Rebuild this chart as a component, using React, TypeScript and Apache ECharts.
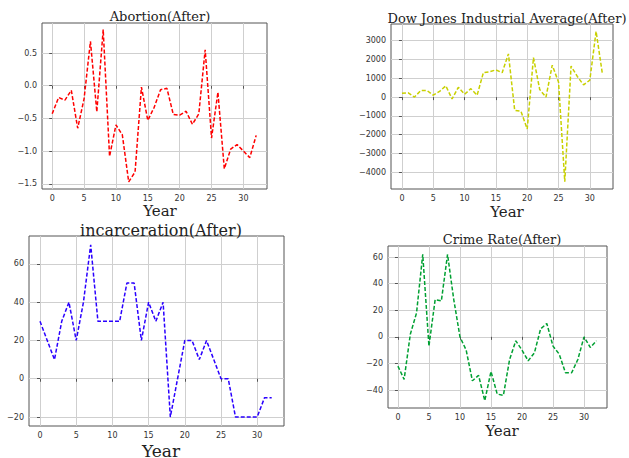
import { useEffect, useRef } from 'react';
import * as echarts from 'echarts';

const years = Array.from({ length: 33 }, (_, i) => i);

const abortion = [-0.43, -0.18, -0.22, -0.07, -0.65, -0.2, 0.68, -0.4, 0.86, -1.08, -0.6, -0.75, -1.47, -1.32, -0.02, -0.53, -0.33, -0.06, -0.04, -0.44, -0.45, -0.39, -0.59, -0.43, 0.55, -0.8, -0.1, -1.27, -0.97, -0.9, -1.0, -1.1, -0.76];
const dow = [200, 230, 0, 350, 350, 100, 300, 600, -100, 520, 150, 450, 100, 1300, 1350, 1450, 1300, 2300, -700, -750, -1700, 2100, 400, 0, 1700, 800, -4500, 1650, 1100, 650, 900, 3500, 1250];
const incarceration = [30, 20, 10, 30, 40, 20, 40, 70, 30, 30, 30, 30, 50, 50, 20, 40, 30, 40, -20, 0, 20, 20, 10, 20, 10, 0, 0, -20, -20, -20, -20, -10, -10];
const crime = [-22, -32, 2, 18, 62, -7, 28, 27, 62, 28, 0, -10, -33, -29, -48, -26, -43, -44, -17, -3, -10, -18, -12, 6, 10, -7, -13, -27, -27, -17, 0, -8, -3];

const xTicks = [0, 5, 10, 15, 20, 25, 30];
const abortionTicks = [-1.5, -1.0, -0.5, 0.0, 0.5];
const dowTicks = [-4000, -3000, -2000, -1000, 0, 1000, 2000, 3000];
const incTicks = [-20, 0, 20, 40, 60];
const crimeTicks = [-40, -20, 0, 20, 40, 60];

const serif = 'DejaVu Serif';

export default function App() {
    const ref = useRef<HTMLDivElement>(null);

    useEffect(() => {
        if (!ref.current) return;
        const chart = echarts.init(ref.current, null, { renderer: 'svg' });

        const grids = [
            { left: 42, top: 23, width: 225, height: 166 },
            { left: 391, top: 24, width: 222, height: 165 },
            { left: 29, top: 236, width: 255, height: 190 },
            { left: 388, top: 246, width: 219, height: 162 },
        ];
        const yRanges = [
            [-1.58, 0.96, abortionTicks, (v: number) => v.toFixed(1).replace('-', '−')],
            [-4890, 3890, dowTicks, (v: number) => String(v).replace('-', '−')],
            [-24.7, 74.6, incTicks, (v: number) => String(v).replace('-', '−')],
            [-53.5, 68.3, crimeTicks, (v: number) => String(v).replace('-', '−')],
        ] as const;
        const xRanges = [
            [-1.6, 33.7], [-1.75, 33.7], [-1.52, 33.7], [-1.6, 33.7],
        ];
        const data = [abortion, dow, incarceration, crime];
        const colors = ['#ff0000', '#c8d000', '#2a00ff', '#00a032'];
        const titles = [
            { text: 'Abortion(After)', left: 155, top: 5, size: 13 },
            { text: 'Dow Jones Industrial Average(After)', left: 502, top: 7, size: 13 },
            { text: 'incarceration(After)', left: 156, top: 217, size: 16 },
            { text: 'Crime Rate(After)', left: 497, top: 228, size: 13 },
        ];
        const yearLabels = [
            { left: 155, top: 198, size: 15 },
            { left: 502, top: 199, size: 15 },
            { left: 156, top: 437, size: 17 },
            { left: 497, top: 418, size: 15 },
        ];
        const tickLabel = { fontSize: 8, color: '#333', fontFamily: 'DejaVu Sans' };

        const option: echarts.EChartsOption = {
            animation: false,
            backgroundColor: '#fff',
            title: [
                ...titles.map(t => ({
                    text: t.text, left: t.left, top: t.top, textAlign: 'center' as const,
                    textStyle: { fontFamily: serif, fontSize: t.size, fontWeight: 'normal' as const, color: '#222' },
                })),
                ...yearLabels.map(t => ({
                    text: 'Year', left: t.left, top: t.top, textAlign: 'center' as const,
                    textStyle: { fontFamily: serif, fontSize: t.size, fontWeight: 'normal' as const, color: '#222' },
                })),
            ],
            grid: grids.map(g => ({ ...g, show: true, borderColor: '#555', borderWidth: 1, backgroundColor: '#fff' })),
            xAxis: xRanges.map((r, i) => ({
                type: 'value' as const, gridIndex: i, min: r[0], max: r[1],
                axisLine: { show: false },
                axisTick: { show: true, length: 3, customValues: xTicks, lineStyle: { color: '#555' } },
                axisLabel: { ...tickLabel, customValues: xTicks, margin: 5 },
                splitLine: { show: true, lineStyle: { color: '#cfcfcf', width: 1 } },
            })),
            yAxis: yRanges.map((r, i) => ({
                type: 'value' as const, gridIndex: i, min: r[0], max: r[1],
                axisLine: { show: false },
                axisTick: { show: true, length: 3, customValues: r[2] as unknown as number[], lineStyle: { color: '#555' } },
                axisLabel: { ...tickLabel, customValues: r[2] as unknown as number[], formatter: r[3], margin: 5 },
                splitLine: { show: true, lineStyle: { color: '#cfcfcf', width: 1 } },
            })),
            series: data.map((d, i) => ({
                type: 'line' as const, xAxisIndex: i, yAxisIndex: i,
                data: d.map((v, k) => [years[k], v]),
                showSymbol: false,
                lineStyle: { color: colors[i], width: 1.5, type: [4, 2] },
            })),
        };
        chart.setOption(option);
        return () => chart.dispose();
    }, []);

    return <div ref={ref} style={{ position: 'fixed', left: 0, top: 0, width: 629, height: 458 }} />;
}
